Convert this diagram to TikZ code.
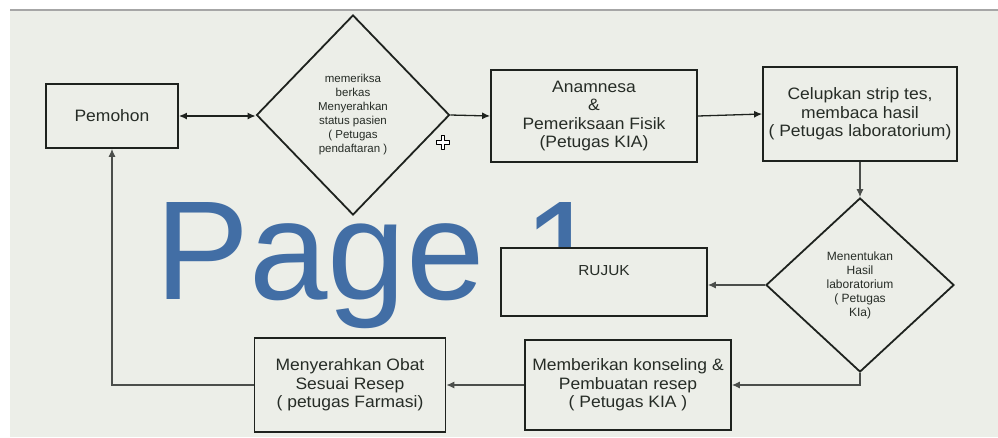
\documentclass[tikz,border=0pt]{standalone}
\usepackage{fontspec}
\setmainfont{Liberation Sans}
\newfontfamily\boxfont{Liberation Sans}[FakeStretch=1.06]
\usetikzlibrary{shapes.geometric,arrows.meta}
\definecolor{bgc}{RGB}{236,238,232}
\definecolor{inkc}{RGB}{30,34,30}
\definecolor{txtc}{RGB}{38,44,38}
\definecolor{pageblue}{RGB}{66,110,165}
\tikzset{
  box/.style={draw=inkc, line width=1.8pt, fill=bgc, align=center, text=txtc, inner sep=2pt,
     font=\boxfont\fontsize{16.5}{18.5}\selectfont},
  dia/.style={draw=inkc, line width=1.8pt, fill=bgc, diamond, align=center, text=txtc, inner sep=0pt,
     font=\fontsize{11.5}{14}\selectfont},
  arr/.style={draw=inkc, line width=1.3pt, -{Latex[length=8pt,width=7pt]}},
  arrb/.style={draw=inkc, line width=1.3pt, {Latex[length=8pt,width=7pt]}-{Latex[length=8pt,width=7pt]}},
  conn/.style={draw=inkc!80, line width=1.1pt, -{Latex[length=8pt,width=7pt]}},
}
\begin{document}
\begin{tikzpicture}[x=1pt,y=-1pt]
\useasboundingbox (0,0) rectangle (998,437);
\fill[white] (0,0) rectangle (998,437);
\fill[bgc] (10,10) rectangle (998,437);
\draw[gray!70, line width=1.2pt] (10,10) -- (998,10);
% watermark
\node[anchor=base west, inner sep=0pt, text=pageblue, font=\fontsize{141}{141}\selectfont] (wm) at (155,299) {Page 1};
% nodes
\node[box, minimum width=132, minimum height=64] (pem) at (112,116) {Pemohon};
\node[dia, minimum width=193, minimum height=200] (d1) at (353,115)
  {memeriksa\\berkas\\Menyerahkan\\status pasien\\( Petugas\\pendaftaran )};
\node[box, minimum width=206, minimum height=92] (anam) at (594,116)
  {Anamnesa\\\&\\Pemeriksaan Fisik\\(Petugas KIA)};
\node[box, minimum width=194, minimum height=94] (celup) at (860,114)
  {Celupkan strip tes,\\membaca hasil\\( Petugas laboratorium)};
\node[dia, minimum width=188, minimum height=174, font=\fontsize{12}{14}\selectfont] (d2) at (860,285)
  {Menentukan\\Hasil\\laboratorium\\( Petugas\\KIa)};
\node[box, minimum width=206, minimum height=68, font=\boxfont\fontsize{14.5}{16}\selectfont,
  text height=12pt, text depth=26pt] (rujuk) at (604,282) {RUJUK};
\node[box, minimum width=206, minimum height=90] (mem) at (628,385)
  {Memberikan konseling \&\\Pembuatan resep\\( Petugas KIA )};
\node[box, minimum width=191, minimum height=94] (menyer) at (350,385)
  {Menyerahkan Obat\\Sesuai Resep\\( petugas Farmasi)};
% connectors
\draw[arrb] (pem.east) -- (pem.east -| d1.west);
\draw[arr] (d1.east) -- (anam.west);
\draw[arr] (anam.east) -- (celup.west);
\draw[conn] (celup.south) -- (d2.north);
\draw[conn] (d2.west) -- (d2.west -| rujuk.east);
\draw[conn] (d2.south) |- (mem.east);
\draw[conn] (mem.west) -- (menyer.east);
\draw[conn] (menyer.west) -| (pem.south);
% mouse cursor
\draw[black, line width=1pt, fill=white, line join=round]
  (436,140) -- (441,140) -- (441,135) -- (444,135) -- (444,140) -- (449,140) -- (449,144)
  -- (444,144) -- (444,149) -- (441,149) -- (441,144) -- (436,144) -- cycle;
\end{tikzpicture}
\end{document}
